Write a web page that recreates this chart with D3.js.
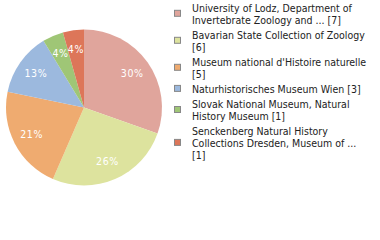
<!DOCTYPE html>
<html><head><meta charset="utf-8">
<script src="https://cdn.jsdelivr.net/npm/d3@7"></script>
<style>html,body{margin:0;padding:0;background:#fff;}svg{display:block;}</style>
</head><body>
<svg id="chart" width="380" height="240"></svg>
<script>
const categories = [
  "University of Lodz, Department of Invertebrate Zoology and ...",
  "Bavarian State Collection of Zoology",
  "Museum national d'Histoire naturelle",
  "Naturhistorisches Museum Wien",
  "Slovak National Museum, Natural History Museum",
  "Senckenberg Natural History Collections Dresden, Museum of ..."
];
const values = [7, 6, 5, 3, 1, 1];
const legendLines = [
  ["University of Lodz, Department of", "Invertebrate Zoology and ... [7]"],
  ["Bavarian State Collection of Zoology", "[6]"],
  ["Museum national d'Histoire naturelle", "[5]"],
  ["Naturhistorisches Museum Wien [3]"],
  ["Slovak National Museum, Natural", "History Museum [1]"],
  ["Senckenberg Natural History", "Collections Dresden, Museum of ...", "[1]"]
];
const colors = ["#e0a59c", "#dde39e", "#efab70", "#9cb9de", "#9fc676", "#dd7659"];

(function () {
const svg = d3.select("#chart");
const font = "'DejaVu Sans Condensed', 'DejaVu Sans', sans-serif";
const cx = 84, cy = 107.5, R = 78;
const total = d3.sum(values);
const color = d3.scaleOrdinal().domain(categories).range(colors);

const pie = d3.pie().sort(null).value(d => d.v);
const data = categories.map((c, i) => ({c, v: values[i]}));
const arcs = pie(data);
const arc = d3.arc().innerRadius(0).outerRadius(R);
const labelArc = d3.arc().innerRadius(59).outerRadius(59);

const g = svg.append("g").attr("transform", `translate(${cx},${cy})`);
g.selectAll("path").data(arcs).join("path")
  .attr("d", arc).attr("fill", d => color(d.data.c));
g.selectAll("text").data(arcs).join("text")
  .attr("transform", d => `translate(${labelArc.centroid(d)})`)
  .attr("text-anchor", "middle").attr("dy", "0.35em")
  .attr("font-family", font).attr("font-size", 10.5).attr("fill", "#fff")
  .attr("letter-spacing", 0.6)
  .text(d => Math.floor(d.data.v / total * 100) + "%");

// legend
const lineH = 11.8, gap = 3.4;
let yTop = 2;
const lg = svg.append("g");
legendLines.forEach((lines, i) => {
  const h = lines.length * lineH;
  const item = lg.append("g");
  item.append("rect")
    .attr("x", 174.5).attr("y", yTop + h / 2 - 3.5)
    .attr("width", 6).attr("height", 6)
    .attr("fill", colors[i]).attr("stroke", "#888").attr("stroke-width", 1);
  lines.forEach((t, j) => {
    item.append("text")
      .attr("x", 192).attr("y", yTop + 10 + j * lineH)
      .attr("font-family", font).attr("font-size", 10.5).attr("fill", "#222")
      .text(t);
  });
  yTop += h + gap;
});
})();
</script>
</body></html>
